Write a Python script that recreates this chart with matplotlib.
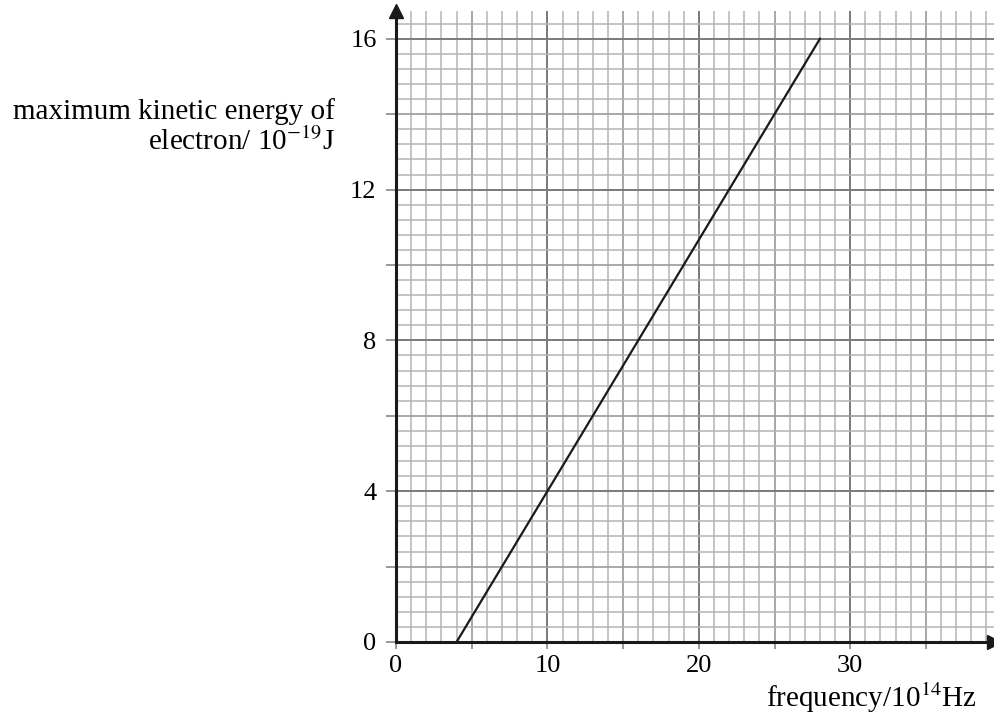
import numpy as np
import matplotlib
matplotlib.use("Agg")
import matplotlib.pyplot as plt

# data
freq = [4, 28]          # 10^14 Hz
energy = [0, 16]        # 10^-19 J

x_labels = [0, 10, 20, 30]
y_labels = [0, 4, 8, 12, 16]

plt.rcParams['font.family'] = ['Liberation Serif', 'DejaVu Serif']
plt.rcParams['mathtext.fontset'] = 'stix'

W, H = 994, 717
fig = plt.figure(figsize=(W / 100, H / 100), dpi=100)

xmax, ymax = 39.5, 16.75
x0px, y0px = 396, 642
sx, sy = 15.14, 37.7  # px per unit
ax = fig.add_axes([x0px / W, (H - y0px) / H, xmax * sx / W, ymax * sy / H])
ax.set_xlim(0, xmax)
ax.set_ylim(0, ymax)

# graph paper
for i in range(1, 40):
    if i % 10 == 0:
        c, lw = '#7a7a7a', 1.4
    elif i % 5 == 0:
        c, lw = '#9a9a9a', 1.2
    else:
        c, lw = '#b4b4b4', 1.1
    ax.axvline(i, color=c, lw=lw, zorder=1)
for j in range(1, 42):
    v = j * 0.4
    if j % 10 == 0:
        c, lw = '#7a7a7a', 1.4
    elif j % 5 == 0:
        c, lw = '#9a9a9a', 1.2
    else:
        c, lw = '#b4b4b4', 1.1
    ax.axhline(v, color=c, lw=lw, zorder=1)

ax.plot(freq, energy, color='#1a1a1a', lw=1.6, zorder=3)

for s in ['top', 'right']:
    ax.spines[s].set_visible(False)
for s in ['left', 'bottom']:
    ax.spines[s].set_linewidth(2.2)
    ax.spines[s].set_color('#1a1a1a')
    ax.spines[s].set_zorder(4)

# arrow heads
ax.plot(1, 0, '>', color='#1a1a1a', ms=10, transform=ax.get_yaxis_transform(), clip_on=False, zorder=5)
ax.plot(0, 1, '^', color='#1a1a1a', ms=10, transform=ax.get_xaxis_transform(), clip_on=False, zorder=5)

xt = np.arange(0, 40, 5)
yt = np.arange(0, 17, 2)
ax.set_xticks(xt)
ax.set_xticklabels([str(v) if v in x_labels else '' for v in xt])
ax.set_yticks(yt)
ax.set_yticklabels([str(v) if v in y_labels else '' for v in yt])
ax.tick_params(axis='x', length=5, width=1.2, color='#888888', pad=4, labelsize=19)
ax.tick_params(axis='y', length=7, width=1.2, color='#888888', pad=7, labelsize=19)

fig.text(335 / W, 1 - 119 / H, 'maximum kinetic energy of', ha='right', va='baseline', fontsize=21)
fig.text(335 / W, 1 - 150 / H, r'electron/ 10$^{-19}$J', ha='right', va='baseline', fontsize=21)
fig.text(977 / W, 1 - 707 / H, r'frequency/10$^{14}$Hz', ha='right', va='baseline', fontsize=21)

fig.savefig('out.png', dpi=100)
